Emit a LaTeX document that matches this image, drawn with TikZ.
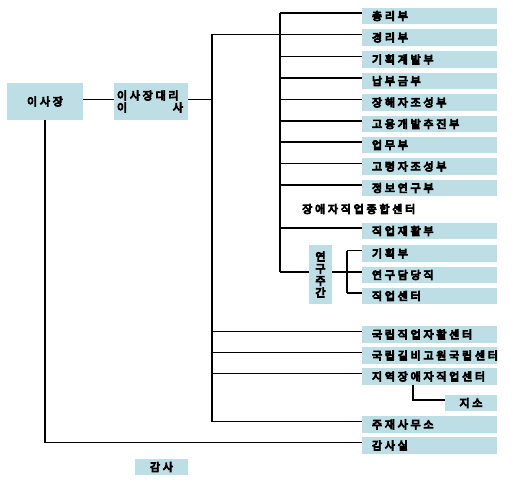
\documentclass[tikz,border=0pt]{standalone}
\usepackage{fontspec}
\newfontfamily\kr{Noto Sans CJK KR}[LetterSpace=25, BoldFont={Noto Sans CJK KR}, BoldFeatures={FakeBold=8}]
\usetikzlibrary{calc}
\definecolor{boxc}{RGB}{188,222,228}
\begin{document}
\begin{tikzpicture}[x=1pt,y=-1pt,
  txt/.style={font=\kr\bfseries\fontsize{11}{12}\selectfont, text=black},
  box/.style={txt, fill=boxc, inner sep=0pt},
  rbox/.style={box, minimum height=16.5pt, text width=115pt, inner xsep=10pt, align=left},
  br/.style={draw=black, line width=1.8pt},
  tk/.style={draw=black, line width=2.6pt},
]
\useasboundingbox (0,0) rectangle (524,494);
\newcommand\branch[2]{\draw[br] ($(#1 |- #2.west)+(0,-3)$) -- ($(#2.west)+(0,-3)$);}
% top level
\node[box, minimum width=76pt, minimum height=37pt] (ceo) at (45,101.5) {이사장};
\node[box, minimum width=74pt, minimum height=37pt, text width=68pt, align=left] (dep) at (151,101.5)
  {이사장대리\\\makebox[66pt]{이\hfill 사}};
% right column boxes
\node[rbox] (b1) at (429.5,16) {총리부};
\node[rbox] (b2) at (429.5,37.5) {경리부};
\node[rbox] (b3) at (429.5,59.5) {기획계발부};
\node[rbox] (b4) at (429.5,81) {납부금부};
\node[rbox] (b5) at (429.5,102.5) {장해자조성부};
\node[rbox] (b6) at (429.5,124) {고용개발추진부};
\node[rbox] (b7) at (429.5,145) {업무부};
\node[rbox] (b8) at (429.5,166.5) {고령자조성부};
\node[rbox] (b9) at (429.5,188) {정보연구부};
\node[txt, anchor=west, inner sep=0pt] (ctr) at (302,209) {장애자직업종합센터};
\node[rbox] (b10) at (429.5,231) {직업재활부};
\node[box, minimum width=23pt, minimum height=59pt, align=center] (yj) at (320.5,274.5) {연\\구\\주\\간};
\node[rbox] (k1) at (429.5,253.5) {기획부};
\node[rbox] (k2) at (429.5,275) {연구담당직};
\node[rbox] (k3) at (429.5,296) {직업센터};
\node[rbox] (c1) at (429.5,334.5) {국립직업자활센터};
\node[rbox] (c2) at (429.5,355.5) {국립길비고원국립센터};
\node[rbox] (c3) at (429.5,376.5) {지역장애자직업센터};
\node[box, minimum width=52pt, minimum height=16.5pt] (js) at (471,403) {지소};
\node[rbox] (c4) at (429.5,424.5) {주재사무소};
\node[rbox] (gs) at (429.5,445.5) {감사실};
\node[box, minimum width=53pt, minimum height=16.5pt] (gam) at (161.5,467) {감사};
% trunk coordinates
\coordinate (T1) at (212,0);
\coordinate (T2) at (280,0);
\coordinate (T3) at (347,0);
\coordinate (J) at (413,0);
% connectors
\draw[br] ($(ceo.east)+(0,-2)$) -- ($(dep.west)+(0,-2)$);
\draw[br] ($(dep.east)+(0,-2)$) -- ($(T1 |- dep.east)+(0,-2)$);
\draw[tk] ($(T1 |- b2.west)+(0,-3)$) -- ($(T1 |- c4.west)+(0,-3)$);
\draw[tk] ($(T2 |- b1.west)+(0,-3)$) -- ($(T2 |- yj.west)+(0,-2.5)$);
\draw[br] ($(T2 |- yj.west)+(0,-2.5)$) -- ($(yj.west)+(0,-2.5)$);
\branch{T1}{b2}
\branch{T2}{b1}
\branch{T2}{b3}
\branch{T2}{b4}
\branch{T2}{b5}
\branch{T2}{b6}
\branch{T2}{b7}
\branch{T2}{b8}
\branch{T2}{b9}
\branch{T2}{b10}
\draw[br] ($(yj.east)+(0,-2.5)$) -- ($(k2.west)+(0,-3)$);
\draw[br] ($(T3 |- k1.west)+(0,-3)$) -- ($(T3 |- k3.west)+(0,-3)$);
\branch{T3}{k1}
\branch{T3}{k3}
\branch{T1}{c1}
\branch{T1}{c2}
\branch{T1}{c3}
\branch{T1}{c4}
\draw[br] (J |- c3.south) |- ($(js.west)+(0,-3)$);
\draw[tk] (ceo.south) -- ($(ceo.south |- gs.west)+(0,-3)$);
\draw[br] ($(ceo.south |- gs.west)+(0,-3)$) -- ($(gs.west)+(0,-3)$);
\end{tikzpicture}
\end{document}
